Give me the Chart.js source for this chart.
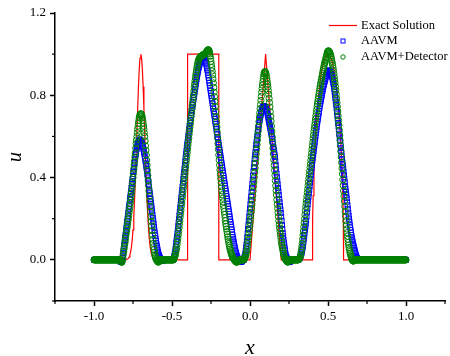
<!DOCTYPE html>
<html><head><meta charset="utf-8">
<script src="https://cdn.jsdelivr.net/npm/chart.js@4/dist/chart.umd.min.js"></script>
<style>html,body{margin:0;padding:0;background:#fff;}canvas{display:block;}</style>
</head><body>
<canvas id="c" width="450" height="356"></canvas>
<script>
// mesh points x
const xGrid = [
-1,-0.9975,-0.995,-0.9925,-0.99,-0.9875,-0.985,-0.9825,-0.98,-0.9775,-0.975,-0.9725,-0.97,-0.9675,-0.965,-0.9625,-0.96,-0.9575,-0.955,-0.9525,-0.95,-0.9475,-0.945,-0.9425,-0.94,-0.9375,-0.935,-0.9325,-0.93,-0.9275,-0.925,-0.9225,-0.92,-0.9175,-0.915,-0.9125,-0.91,-0.9075,-0.905,-0.9025,
-0.9,-0.8975,-0.895,-0.8925,-0.89,-0.8875,-0.885,-0.8825,-0.88,-0.8775,-0.875,-0.8725,-0.87,-0.8675,-0.865,-0.8625,-0.86,-0.8575,-0.855,-0.8525,-0.85,-0.8475,-0.845,-0.8425,-0.84,-0.8375,-0.835,-0.8325,-0.83,-0.8275,-0.825,-0.8225,-0.82,-0.8175,-0.815,-0.8125,-0.81,-0.8075,-0.805,-0.8025,
-0.8,-0.7975,-0.795,-0.7925,-0.79,-0.7875,-0.785,-0.7825,-0.78,-0.7775,-0.775,-0.7725,-0.77,-0.7675,-0.765,-0.7625,-0.76,-0.7575,-0.755,-0.7525,-0.75,-0.7475,-0.745,-0.7425,-0.74,-0.7375,-0.735,-0.7325,-0.73,-0.7275,-0.725,-0.7225,-0.72,-0.7175,-0.715,-0.7125,-0.71,-0.7075,-0.705,-0.7025,
-0.7,-0.6975,-0.695,-0.6925,-0.69,-0.6875,-0.685,-0.6825,-0.68,-0.6775,-0.675,-0.6725,-0.67,-0.6675,-0.665,-0.6625,-0.66,-0.6575,-0.655,-0.6525,-0.65,-0.6475,-0.645,-0.6425,-0.64,-0.6375,-0.635,-0.6325,-0.63,-0.6275,-0.625,-0.6225,-0.62,-0.6175,-0.615,-0.6125,-0.61,-0.6075,-0.605,-0.6025,
-0.6,-0.5975,-0.595,-0.5925,-0.59,-0.5875,-0.585,-0.5825,-0.58,-0.5775,-0.575,-0.5725,-0.57,-0.5675,-0.565,-0.5625,-0.56,-0.5575,-0.555,-0.5525,-0.55,-0.5475,-0.545,-0.5425,-0.54,-0.5375,-0.535,-0.5325,-0.53,-0.5275,-0.525,-0.5225,-0.52,-0.5175,-0.515,-0.5125,-0.51,-0.5075,-0.505,-0.5025,
-0.5,-0.4975,-0.495,-0.4925,-0.49,-0.4875,-0.485,-0.4825,-0.48,-0.4775,-0.475,-0.4725,-0.47,-0.4675,-0.465,-0.4625,-0.46,-0.4575,-0.455,-0.4525,-0.45,-0.4475,-0.445,-0.4425,-0.44,-0.4375,-0.435,-0.4325,-0.43,-0.4275,-0.425,-0.4225,-0.42,-0.4175,-0.415,-0.4125,-0.41,-0.4075,-0.405,-0.4025,
-0.4,-0.3975,-0.395,-0.3925,-0.39,-0.3875,-0.385,-0.3825,-0.38,-0.3775,-0.375,-0.3725,-0.37,-0.3675,-0.365,-0.3625,-0.36,-0.3575,-0.355,-0.3525,-0.35,-0.3475,-0.345,-0.3425,-0.34,-0.3375,-0.335,-0.3325,-0.33,-0.3275,-0.325,-0.3225,-0.32,-0.3175,-0.315,-0.3125,-0.31,-0.3075,-0.305,-0.3025,
-0.3,-0.2975,-0.295,-0.2925,-0.29,-0.2875,-0.285,-0.2825,-0.28,-0.2775,-0.275,-0.2725,-0.27,-0.2675,-0.265,-0.2625,-0.26,-0.2575,-0.255,-0.2525,-0.25,-0.2475,-0.245,-0.2425,-0.24,-0.2375,-0.235,-0.2325,-0.23,-0.2275,-0.225,-0.2225,-0.22,-0.2175,-0.215,-0.2125,-0.21,-0.2075,-0.205,-0.2025,
-0.2,-0.1975,-0.195,-0.1925,-0.19,-0.1875,-0.185,-0.1825,-0.18,-0.1775,-0.175,-0.1725,-0.17,-0.1675,-0.165,-0.1625,-0.16,-0.1575,-0.155,-0.1525,-0.15,-0.1475,-0.145,-0.1425,-0.14,-0.1375,-0.135,-0.1325,-0.13,-0.1275,-0.125,-0.1225,-0.12,-0.1175,-0.115,-0.1125,-0.11,-0.1075,-0.105,-0.1025,
-0.1,-0.0975,-0.095,-0.0925,-0.09,-0.0875,-0.085,-0.0825,-0.08,-0.0775,-0.075,-0.0725,-0.07,-0.0675,-0.065,-0.0625,-0.06,-0.0575,-0.055,-0.0525,-0.05,-0.0475,-0.045,-0.0425,-0.04,-0.0375,-0.035,-0.0325,-0.03,-0.0275,-0.025,-0.0225,-0.02,-0.0175,-0.015,-0.0125,-0.01,-0.0075,-0.005,-0.0025,
0,0.0025,0.005,0.0075,0.01,0.0125,0.015,0.0175,0.02,0.0225,0.025,0.0275,0.03,0.0325,0.035,0.0375,0.04,0.0425,0.045,0.0475,0.05,0.0525,0.055,0.0575,0.06,0.0625,0.065,0.0675,0.07,0.0725,0.075,0.0775,0.08,0.0825,0.085,0.0875,0.09,0.0925,0.095,0.0975,
0.1,0.1025,0.105,0.1075,0.11,0.1125,0.115,0.1175,0.12,0.1225,0.125,0.1275,0.13,0.1325,0.135,0.1375,0.14,0.1425,0.145,0.1475,0.15,0.1525,0.155,0.1575,0.16,0.1625,0.165,0.1675,0.17,0.1725,0.175,0.1775,0.18,0.1825,0.185,0.1875,0.19,0.1925,0.195,0.1975,
0.2,0.2025,0.205,0.2075,0.21,0.2125,0.215,0.2175,0.22,0.2225,0.225,0.2275,0.23,0.2325,0.235,0.2375,0.24,0.2425,0.245,0.2475,0.25,0.2525,0.255,0.2575,0.26,0.2625,0.265,0.2675,0.27,0.2725,0.275,0.2775,0.28,0.2825,0.285,0.2875,0.29,0.2925,0.295,0.2975,
0.3,0.3025,0.305,0.3075,0.31,0.3125,0.315,0.3175,0.32,0.3225,0.325,0.3275,0.33,0.3325,0.335,0.3375,0.34,0.3425,0.345,0.3475,0.35,0.3525,0.355,0.3575,0.36,0.3625,0.365,0.3675,0.37,0.3725,0.375,0.3775,0.38,0.3825,0.385,0.3875,0.39,0.3925,0.395,0.3975,
0.4,0.4025,0.405,0.4075,0.41,0.4125,0.415,0.4175,0.42,0.4225,0.425,0.4275,0.43,0.4325,0.435,0.4375,0.44,0.4425,0.445,0.4475,0.45,0.4525,0.455,0.4575,0.46,0.4625,0.465,0.4675,0.47,0.4725,0.475,0.4775,0.48,0.4825,0.485,0.4875,0.49,0.4925,0.495,0.4975,
0.5,0.5025,0.505,0.5075,0.51,0.5125,0.515,0.5175,0.52,0.5225,0.525,0.5275,0.53,0.5325,0.535,0.5375,0.54,0.5425,0.545,0.5475,0.55,0.5525,0.555,0.5575,0.56,0.5625,0.565,0.5675,0.57,0.5725,0.575,0.5775,0.58,0.5825,0.585,0.5875,0.59,0.5925,0.595,0.5975,
0.6,0.6025,0.605,0.6075,0.61,0.6125,0.615,0.6175,0.62,0.6225,0.625,0.6275,0.63,0.6325,0.635,0.6375,0.64,0.6425,0.645,0.6475,0.65,0.6525,0.655,0.6575,0.66,0.6625,0.665,0.6675,0.67,0.6725,0.675,0.6775,0.68,0.6825,0.685,0.6875,0.69,0.6925,0.695,0.6975,
0.7,0.7025,0.705,0.7075,0.71,0.7125,0.715,0.7175,0.72,0.7225,0.725,0.7275,0.73,0.7325,0.735,0.7375,0.74,0.7425,0.745,0.7475,0.75,0.7525,0.755,0.7575,0.76,0.7625,0.765,0.7675,0.77,0.7725,0.775,0.7775,0.78,0.7825,0.785,0.7875,0.79,0.7925,0.795,0.7975,
0.8,0.8025,0.805,0.8075,0.81,0.8125,0.815,0.8175,0.82,0.8225,0.825,0.8275,0.83,0.8325,0.835,0.8375,0.84,0.8425,0.845,0.8475,0.85,0.8525,0.855,0.8575,0.86,0.8625,0.865,0.8675,0.87,0.8725,0.875,0.8775,0.88,0.8825,0.885,0.8875,0.89,0.8925,0.895,0.8975,
0.9,0.9025,0.905,0.9075,0.91,0.9125,0.915,0.9175,0.92,0.9225,0.925,0.9275,0.93,0.9325,0.935,0.9375,0.94,0.9425,0.945,0.9475,0.95,0.9525,0.955,0.9575,0.96,0.9625,0.965,0.9675,0.97,0.9725,0.975,0.9775,0.98,0.9825,0.985,0.9875,0.99,0.9925,0.995,0.9975,
1
];
// AAVM (blue squares)
const aavm = [
0,0,0,0,0,0,0,0,0,0,0,0,0,0,0,0,0,0,0,0,0,0,0,0,0,0,0,0,0,0,0,0,0,0,0,0,0,0,0,0,
0,0,0,0,0,0,0,0,0,0,0,0,0,0,0,0,0,0,0,0,0,0,0,0,0,0,0,-0.004,-0.01,-0.008,-0.005,-0.004,0,0.008,0.02,0.034,0.05,0.066,0.08,0.096,
0.11,0.124,0.14,0.156,0.168,0.186,0.2,0.214,0.23,0.246,0.26,0.273,0.292,0.306,0.32,0.334,0.35,0.367,0.38,0.393,0.408,0.427,0.44,0.454,0.47,0.487,0.5,0.513,0.525,0.536,0.545,0.553,0.56,0.567,0.572,0.577,0.58,0.584,0.585,0.583,
0.58,0.576,0.57,0.566,0.56,0.553,0.545,0.536,0.525,0.516,0.505,0.493,0.48,0.468,0.455,0.443,0.43,0.414,0.4,0.386,0.37,0.356,0.34,0.324,0.31,0.296,0.28,0.264,0.25,0.236,0.22,0.204,0.19,0.176,0.16,0.144,0.13,0.118,0.105,0.092,
0.08,0.07,0.06,0.05,0.04,0.032,0.025,0.02,0.015,0.01,0.005,0.002,0,-0.003,-0.005,-0.006,-0.005,-0.002,0,0,0,0,0,0,0,0,0,0,0,0,0,0,0,0,0,0,0,0,0,0,
0,0,0,0.002,0.005,0.012,0.02,0.029,0.04,0.054,0.07,0.086,0.1,0.114,0.13,0.148,0.165,0.183,0.2,0.217,0.235,0.253,0.27,0.288,0.305,0.322,0.34,0.357,0.375,0.393,0.41,0.428,0.445,0.462,0.48,0.498,0.515,0.53,0.545,0.56,
0.575,0.59,0.605,0.62,0.635,0.651,0.665,0.677,0.69,0.703,0.715,0.727,0.74,0.752,0.765,0.778,0.79,0.802,0.815,0.828,0.84,0.853,0.865,0.877,0.89,0.9,0.91,0.92,0.93,0.938,0.945,0.953,0.96,0.965,0.97,0.975,0.98,0.983,0.985,0.988,
0.99,0.988,0.985,0.983,0.98,0.973,0.965,0.958,0.95,0.94,0.93,0.92,0.91,0.898,0.885,0.872,0.86,0.848,0.835,0.822,0.81,0.797,0.785,0.773,0.76,0.747,0.735,0.722,0.71,0.698,0.685,0.672,0.66,0.648,0.635,0.622,0.61,0.597,0.585,0.572,
0.56,0.547,0.535,0.522,0.51,0.498,0.485,0.472,0.46,0.448,0.435,0.422,0.41,0.398,0.385,0.372,0.36,0.348,0.335,0.322,0.31,0.297,0.285,0.273,0.26,0.247,0.235,0.223,0.21,0.197,0.185,0.172,0.16,0.148,0.135,0.122,0.11,0.1,0.09,0.08,
0.07,0.06,0.05,0.042,0.035,0.027,0.02,0.015,0.01,0.004,0,-0.003,-0.005,-0.008,-0.01,-0.011,-0.01,-0.01,-0.01,-0.008,-0.005,-0.002,0,0,0,0.007,0.015,0.022,0.03,0.044,0.06,0.075,0.09,0.11,0.13,0.15,0.17,0.19,0.21,0.23,
0.25,0.27,0.29,0.308,0.33,0.35,0.37,0.39,0.41,0.432,0.45,0.47,0.49,0.508,0.525,0.543,0.56,0.575,0.59,0.605,0.62,0.633,0.645,0.658,0.67,0.68,0.69,0.7,0.71,0.718,0.725,0.733,0.74,0.743,0.745,0.747,0.745,0.746,0.745,0.743,
0.74,0.735,0.73,0.726,0.72,0.71,0.7,0.69,0.68,0.67,0.66,0.65,0.64,0.63,0.62,0.61,0.6,0.588,0.575,0.563,0.55,0.537,0.525,0.513,0.5,0.48,0.46,0.44,0.42,0.402,0.385,0.368,0.35,0.333,0.315,0.297,0.28,0.262,0.245,0.228,
0.21,0.19,0.17,0.15,0.13,0.115,0.1,0.085,0.07,0.057,0.045,0.032,0.02,0.015,0.01,0.005,0,-0.003,-0.005,-0.008,-0.01,-0.011,-0.01,-0.008,-0.005,-0.002,0,0,0,0,0,0,0,0,0,0,0,0,0,0,
0,0,0,0,0,0.002,0.005,0.007,0.01,0.015,0.02,0.025,0.03,0.04,0.05,0.06,0.07,0.085,0.1,0.115,0.13,0.145,0.16,0.175,0.19,0.21,0.23,0.25,0.27,0.288,0.305,0.322,0.34,0.357,0.375,0.393,0.41,0.428,0.445,0.462,
0.48,0.495,0.51,0.525,0.54,0.555,0.57,0.585,0.6,0.615,0.63,0.645,0.66,0.672,0.685,0.698,0.71,0.722,0.735,0.748,0.76,0.77,0.78,0.79,0.8,0.81,0.82,0.83,0.84,0.848,0.855,0.863,0.87,0.878,0.885,0.893,0.9,0.905,0.91,0.913,
0.915,0.918,0.92,0.921,0.92,0.918,0.915,0.91,0.905,0.9,0.895,0.886,0.875,0.865,0.855,0.843,0.83,0.815,0.8,0.785,0.77,0.753,0.735,0.718,0.7,0.683,0.665,0.648,0.63,0.613,0.595,0.578,0.56,0.543,0.525,0.508,0.49,0.475,0.46,0.445,
0.43,0.412,0.395,0.378,0.36,0.345,0.33,0.315,0.3,0.283,0.265,0.248,0.23,0.215,0.2,0.185,0.17,0.157,0.145,0.132,0.12,0.11,0.1,0.09,0.08,0.072,0.065,0.057,0.05,0.042,0.035,0.027,0.02,0.015,0.01,0.007,0.005,0.002,0,0,
0,0,0,0,0,0,0,0,0,0,0,0,0,0,0,0,0,0,0,0,0,0,0,0,0,0,0,0,0,0,0,0,0,0,0,0,0,0,0,0,
0,0,0,0,0,0,0,0,0,0,0,0,0,0,0,0,0,0,0,0,0,0,0,0,0,0,0,0,0,0,0,0,0,0,0,0,0,0,0,0,
0,0,0,0,0,0,0,0,0,0,0,0,0,0,0,0,0,0,0,0,0,0,0,0,0,0,0,0,0,0,0,0,0,0,0,0,0,0,0,0,
0
];
// AAVM+Detector (green circles)
const aavmDetector = [
0,0,0,0,0,0,0,0,0,0,0,0,0,0,0,0,0,0,0,0,0,0,0,0,0,0,0,0,0,0,0,0,0,0,0,0,0,0,0,0,
0,0,0,0,0,0,0,0,0,0,0,0,0,0,0,0,0,0,0,0,0,0,0,0,0,0,0,0,0,-0.005,-0.01,-0.012,-0.01,0,0.01,0.025,0.04,0.053,0.065,0.078,
0.09,0.105,0.12,0.133,0.145,0.16,0.175,0.188,0.2,0.215,0.23,0.245,0.26,0.275,0.29,0.307,0.325,0.342,0.36,0.38,0.4,0.42,0.44,0.46,0.48,0.5,0.52,0.543,0.565,0.583,0.6,0.618,0.635,0.65,0.665,0.678,0.69,0.698,0.705,0.709,
0.71,0.709,0.705,0.698,0.69,0.678,0.665,0.65,0.635,0.618,0.6,0.578,0.555,0.533,0.51,0.485,0.46,0.435,0.41,0.385,0.36,0.335,0.31,0.285,0.26,0.235,0.21,0.187,0.165,0.142,0.12,0.1,0.08,0.064,0.05,0.037,0.025,0.017,0.01,0.004,
0,-0.002,-0.005,-0.008,-0.01,-0.011,-0.01,-0.008,-0.005,-0.002,0,0,0,0,0,0,0,0,0,0,0,0,0,0,0,0,0,0,0,0,0,0,0,0,0,0,0,0,0,0,
0,0,0,0,0,0.004,0.01,0.015,0.02,0.03,0.04,0.05,0.06,0.075,0.09,0.105,0.12,0.137,0.155,0.172,0.19,0.207,0.225,0.242,0.26,0.277,0.295,0.312,0.33,0.347,0.365,0.383,0.4,0.417,0.435,0.452,0.47,0.487,0.505,0.522,
0.54,0.557,0.575,0.592,0.61,0.627,0.645,0.662,0.68,0.697,0.715,0.733,0.75,0.767,0.785,0.802,0.82,0.838,0.855,0.87,0.885,0.898,0.91,0.923,0.935,0.945,0.955,0.963,0.97,0.975,0.98,0.983,0.985,0.988,0.99,0.991,0.99,0.992,0.995,0.996,
0.995,0.998,1,1,1,1.003,1.005,1.008,1.01,1.013,1.015,1.018,1.02,1.022,1.02,1.016,1.01,1.001,0.99,0.978,0.965,0.95,0.935,0.918,0.9,0.88,0.86,0.838,0.815,0.793,0.77,0.745,0.72,0.695,0.67,0.645,0.62,0.593,0.565,0.537,
0.51,0.485,0.46,0.437,0.415,0.395,0.375,0.355,0.335,0.317,0.3,0.282,0.265,0.25,0.235,0.22,0.205,0.19,0.175,0.162,0.15,0.137,0.125,0.112,0.1,0.09,0.08,0.07,0.06,0.052,0.045,0.037,0.03,0.025,0.02,0.015,0.01,0.007,0.005,0.002,
0,-0.003,-0.005,-0.008,-0.01,-0.011,-0.01,-0.01,-0.01,-0.008,-0.005,-0.002,0,0,0,0,0,0,0,0,0,0,0,0,0,0.002,0.005,0.01,0.015,0.022,0.03,0.04,0.05,0.065,0.08,0.095,0.11,0.127,0.145,0.162,
0.18,0.197,0.215,0.232,0.25,0.27,0.29,0.312,0.335,0.357,0.38,0.402,0.425,0.447,0.47,0.492,0.515,0.537,0.56,0.582,0.605,0.627,0.65,0.672,0.695,0.715,0.735,0.755,0.775,0.795,0.815,0.833,0.85,0.866,0.88,0.893,0.905,0.911,0.915,0.914,
0.91,0.903,0.895,0.883,0.87,0.855,0.84,0.823,0.805,0.785,0.765,0.743,0.72,0.697,0.675,0.65,0.625,0.597,0.57,0.543,0.515,0.487,0.46,0.435,0.41,0.385,0.36,0.337,0.315,0.292,0.27,0.25,0.23,0.21,0.19,0.172,0.155,0.14,0.125,0.11,
0.095,0.082,0.07,0.06,0.05,0.04,0.03,0.022,0.015,0.01,0.005,0.002,0,-0.003,-0.005,-0.008,-0.01,-0.011,-0.01,-0.008,-0.005,-0.002,0,0,0,0,0,0,0,0,0,0,0,0,0,0,0,0,0,0,
0,0,0,0,0,0.002,0.005,0.007,0.01,0.017,0.025,0.037,0.05,0.065,0.08,0.1,0.12,0.14,0.16,0.18,0.2,0.22,0.24,0.258,0.275,0.292,0.31,0.327,0.345,0.362,0.38,0.397,0.415,0.432,0.45,0.467,0.485,0.502,0.52,0.537,
0.555,0.572,0.59,0.607,0.625,0.64,0.655,0.67,0.685,0.7,0.715,0.73,0.745,0.758,0.77,0.783,0.795,0.808,0.82,0.833,0.845,0.855,0.865,0.875,0.885,0.895,0.905,0.915,0.925,0.935,0.945,0.953,0.96,0.968,0.975,0.983,0.99,0.998,1.005,1.011,
1.015,1.016,1.015,1.013,1.01,1.005,1,0.993,0.985,0.975,0.965,0.955,0.945,0.933,0.92,0.905,0.89,0.875,0.86,0.843,0.825,0.805,0.785,0.765,0.745,0.723,0.7,0.678,0.655,0.63,0.605,0.58,0.555,0.528,0.5,0.473,0.445,0.418,0.39,0.362,
0.335,0.31,0.285,0.26,0.235,0.212,0.19,0.17,0.15,0.132,0.115,0.1,0.085,0.072,0.06,0.05,0.04,0.032,0.025,0.017,0.01,0.005,0,-0.003,-0.005,-0.006,-0.005,-0.002,0,0,0,0,0,0,0,0,0,0,0,0,
0,0,0,0,0,0,0,0,0,0,0,0,0,0,0,0,0,0,0,0,0,0,0,0,0,0,0,0,0,0,0,0,0,0,0,0,0,0,0,0,
0,0,0,0,0,0,0,0,0,0,0,0,0,0,0,0,0,0,0,0,0,0,0,0,0,0,0,0,0,0,0,0,0,0,0,0,0,0,0,0,
0,0,0,0,0,0,0,0,0,0,0,0,0,0,0,0,0,0,0,0,0,0,0,0,0,0,0,0,0,0,0,0,0,0,0,0,0,0,0,0,
0
];
// Exact solution (red line)
const exactX = [
-1,-0.8,-0.795,-0.79,-0.785,-0.78,-0.775,-0.77,-0.765,-0.76,-0.755,-0.75,-0.745,-0.74,-0.735,-0.73,-0.725,-0.72,-0.715,-0.71,-0.705,
-0.7,-0.695,-0.69,-0.685,-0.68,-0.675,-0.67,-0.665,-0.66,-0.655,-0.65,-0.645,-0.64,-0.635,-0.63,-0.625,-0.62,-0.615,-0.61,-0.605,-0.6,
-0.4,-0.4,-0.2,-0.2,
0,0.1,0.2,
0.4,0.4005,0.402,0.405,0.41,0.42,0.43,0.44,0.45,0.46,0.47,0.48,0.49,0.5,0.51,0.52,0.53,0.54,0.55,0.56,0.57,0.58,0.59,0.595,0.598,0.5995,0.6,
1
];
const exactU = [
0,0,0.001,0.002,0.004,0.007,0.013,0.023,0.039,0.063,0.097,0.146,0.21,0.292,0.389,0.5,0.618,0.735,0.841,0.926,0.981,
1,0.981,0.926,0.841,0.735,0.618,0.5,0.389,0.292,0.21,0.146,0.097,0.063,0.039,0.023,0.013,0.007,0.004,0.002,0.001,0,
0,1,1,0,
0,1,0,
0,0.1,0.199,0.312,0.436,0.6,0.714,0.8,0.866,0.917,0.954,0.98,0.995,1,0.995,0.98,0.954,0.917,0.866,0.8,0.714,0.6,0.436,0.312,0.199,0.1,0,
0
];
const seriesLabels = ['Exact Solution', 'AAVM', 'AAVM+Detector'];
const xMajor = [-1, -0.5, 0, 0.5, 1];
const xTickLabels = ['-1.0', '-0.5', '0.0', '0.5', '1.0'];
const yMajor = [0, 0.4, 0.8, 1.2];
const yTickLabels = ['0.0', '0.4', '0.8', '1.2'];

const SERIF = '"Liberation Serif", "Times New Roman", serif';
const findIdx = (arr, v) => arr.findIndex(m => Math.abs(m - v) < 1e-9);
const isXMajor = v => findIdx(xMajor, v) >= 0;
const isYMajor = v => findIdx(yMajor, v) >= 0;

const extras = {
  id: 'extras',
  afterDraw(chart) {
    const {ctx, chartArea: a, scales: {x, y}} = chart;
    ctx.save();
    ctx.strokeStyle = '#000';
    ctx.lineWidth = 1.2;
    x.ticks.forEach(t => {
      if (!isXMajor(t.value)) {
        const px = x.getPixelForValue(t.value);
        ctx.beginPath(); ctx.moveTo(px, a.bottom); ctx.lineTo(px, a.bottom + 3); ctx.stroke();
      }
    });
    y.ticks.forEach(t => {
      if (!isYMajor(t.value)) {
        const py = y.getPixelForValue(t.value);
        ctx.beginPath(); ctx.moveTo(a.left, py); ctx.lineTo(a.left - 3, py); ctx.stroke();
      }
    });
    // legend
    const ds = chart.data.datasets;
    ctx.font = '12.5px ' + SERIF;
    ctx.fillStyle = '#000';
    ctx.textBaseline = 'middle';
    ctx.textAlign = 'left';
    const tx = 361, rows = [25.5, 41, 57];
    ctx.strokeStyle = ds[0].borderColor; ctx.lineWidth = 1.2;
    ctx.beginPath(); ctx.moveTo(329, rows[0]); ctx.lineTo(357, rows[0]); ctx.stroke();
    ctx.strokeStyle = ds[1].pointBorderColor; ctx.lineWidth = 1;
    ctx.strokeRect(341, rows[1] - 2, 4, 4);
    ctx.strokeStyle = ds[2].pointBorderColor;
    ctx.beginPath(); ctx.arc(343, rows[2], 2.2, 0, Math.PI * 2); ctx.stroke();
    ds.forEach((d, i) => ctx.fillText(d.label, tx, rows[i]));
    ctx.restore();
  }
};

new Chart(document.getElementById('c'), {
  type: 'line',
  data: {
    datasets: [
      { label: seriesLabels[0], data: exactX.map((v, i) => ({x: v, y: exactU[i]})),
        borderColor: '#ff0000', borderWidth: 1.2, pointRadius: 0, fill: false, tension: 0, order: 3 },
      { label: seriesLabels[1], data: xGrid.map((v, i) => ({x: v, y: aavm[i]})),
        showLine: false, pointStyle: 'rect', pointRadius: 3.5, pointBorderWidth: 1,
        pointBorderColor: '#0000ff', pointBackgroundColor: 'rgba(0,0,0,0)', borderColor: '#0000ff', order: 2 },
      { label: seriesLabels[2], data: xGrid.map((v, i) => ({x: v, y: aavmDetector[i]})),
        showLine: false, pointStyle: 'circle', pointRadius: 3.1, pointBorderWidth: 1,
        pointBorderColor: '#008000', pointBackgroundColor: 'rgba(0,0,0,0)', borderColor: '#008000', order: 1 }
    ]
  },
  options: {
    responsive: false, animation: false, devicePixelRatio: 1, events: [],
    layout: { padding: { top: 13, right: 5, left: 0, bottom: 0 } },
    plugins: { legend: { display: false }, tooltip: { enabled: false } },
    scales: {
      x: {
        type: 'linear', min: -1.25, max: 1.25,
        afterFit: s => { s.height = 55; },
        ticks: { stepSize: 0.25, autoSkip: false, maxRotation: 0, padding: 3, color: '#000',
          font: { family: SERIF, size: 13 },
          callback: v => { const k = findIdx(xMajor, v); return k >= 0 ? xTickLabels[k] : ''; } },
        grid: { drawOnChartArea: false, drawTicks: true, tickLength: 5, tickWidth: 1.5,
          tickColor: c => (c.tick && isXMajor(c.tick.value)) ? '#000' : 'rgba(0,0,0,0)' },
        border: { display: true, color: '#000', width: 1.5 },
        title: { display: true, text: 'x', color: '#000', padding: 0,
          font: { family: SERIF, size: 22, style: 'italic', lineHeight: 0.73 } }
      },
      y: {
        min: -0.2, max: 1.2,
        afterFit: s => { s.width = 55; },
        ticks: { stepSize: 0.2, padding: 4, color: '#000', font: { family: SERIF, size: 13 },
          callback: v => { const k = findIdx(yMajor, v); return k >= 0 ? yTickLabels[k] : ''; } },
        grid: { drawOnChartArea: false, drawTicks: true, tickLength: 5, tickWidth: 1.5,
          tickColor: c => (c.tick && isYMajor(c.tick.value)) ? '#000' : 'rgba(0,0,0,0)' },
        border: { display: true, color: '#000', width: 1.5 },
        title: { display: true, text: 'u', color: '#000', padding: { top: 4, bottom: 0 },
          font: { family: SERIF, size: 20, style: 'italic' } }
      }
    }
  },
  plugins: [extras]
});
</script>
</body></html>
